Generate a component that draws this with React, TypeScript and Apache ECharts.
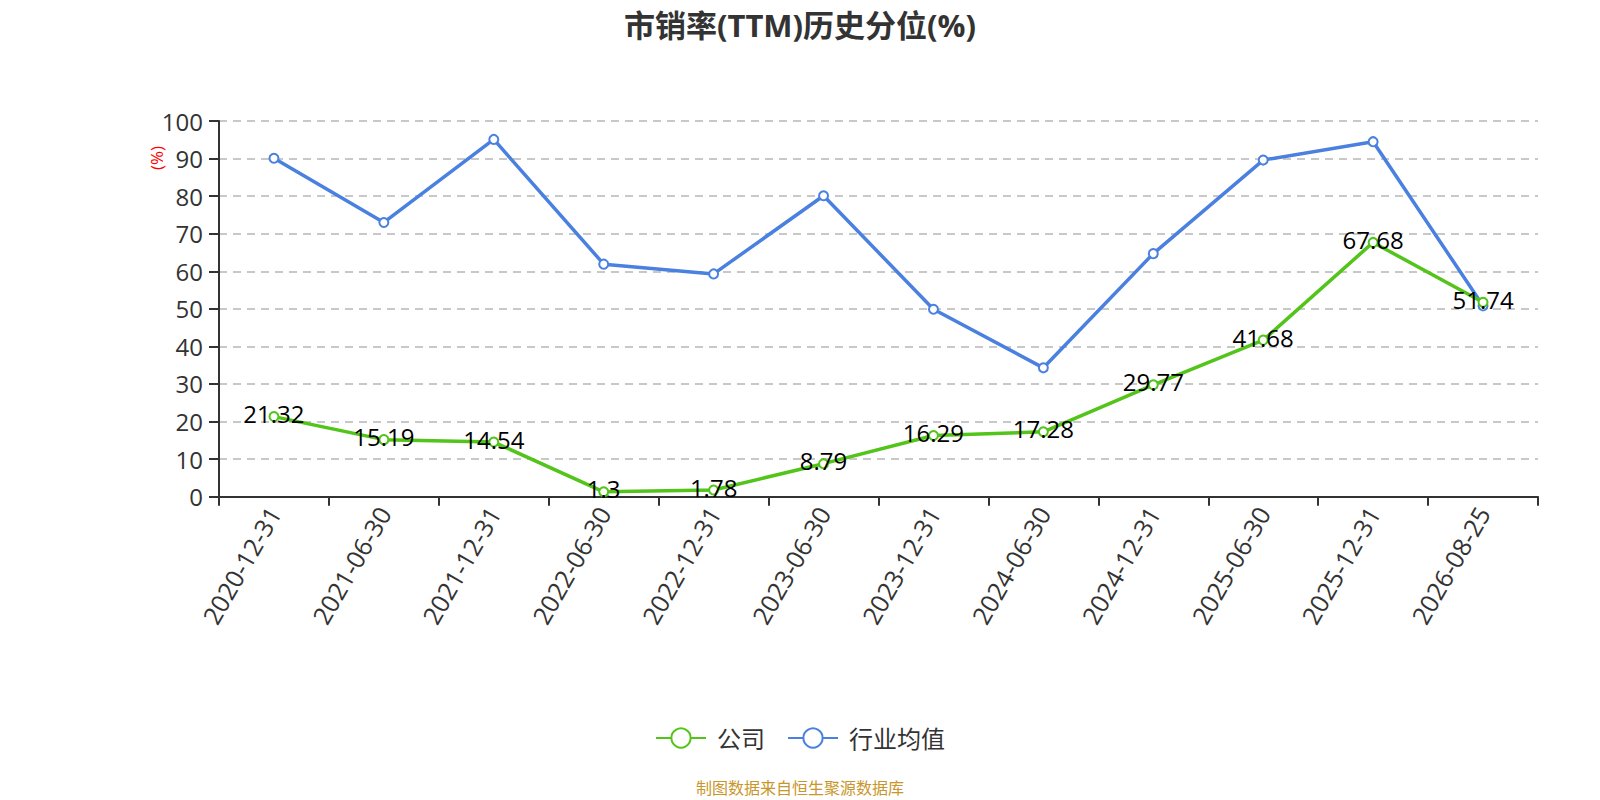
import React, { useEffect, useRef } from "react";
import * as echarts from "echarts";

const categories = [
  "2020-12-31", "2021-06-30", "2021-12-31", "2022-06-30", "2022-12-31", "2023-06-30",
  "2023-12-31", "2024-06-30", "2024-12-31", "2025-06-30", "2025-12-31", "2026-08-25",
];
const companyValues = [21.32, 15.19, 14.54, 1.3, 1.78, 8.79, 16.29, 17.28, 29.77, 41.68, 67.68, 51.74];
const industryValues = [90.1, 73.0, 95.1, 61.9, 59.3, 80.1, 49.9, 34.3, 64.7, 89.6, 94.5, 50.8];
const yTicks = { min: 0, max: 100, interval: 10 };

const FONT = '"Open Sans", "Noto Sans CJK SC", sans-serif';
const GREEN = "#52c41a";
const BLUE = "#4a80e0";

export default function App() {
  const ref = useRef<HTMLDivElement>(null);
  useEffect(() => {
    document.body.style.margin = "0";
    const chart = echarts.init(ref.current!, null, { renderer: "svg" });
    chart.setOption({
      animation: false,
      backgroundColor: "#fff",
      textStyle: { fontFamily: FONT },
      title: [
        {
          text: "市销率(TTM)历史分位(%)",
          left: "center",
          top: 4,
          textStyle: { fontSize: 31, fontWeight: "bold", color: "#333", fontFamily: FONT },
        },
        {
          text: "制图数据来自恒生聚源数据库",
          left: "center",
          top: 780,
          padding: 0,
          textStyle: { fontSize: 16, fontWeight: "normal", color: "#c8962a", fontFamily: FONT },
        },
      ],
      legend: {
        top: 721,
        left: "center",
        itemWidth: 50,
        itemHeight: 24,
        itemGap: 22,
        textStyle: { fontSize: 24, color: "#333", fontFamily: FONT, padding: [0, 0, 0, 6] },
        data: ["公司", "行业均值"],
      },
      grid: { left: 219, right: 62, top: 121, bottom: 303.3 },
      xAxis: {
        type: "category",
        data: categories,
        boundaryGap: true,
        axisLine: { lineStyle: { color: "#333", width: 2 } },
        axisTick: { show: true, length: 9, lineStyle: { color: "#333", width: 2 } },
        axisLabel: { rotate: 60, fontSize: 25, color: "#333", margin: 12, fontFamily: FONT },
      },
      yAxis: {
        type: "value",
        min: yTicks.min,
        max: yTicks.max,
        interval: yTicks.interval,
        axisLine: { show: true, lineStyle: { color: "#333", width: 2 } },
        axisTick: { show: true, length: 10, lineStyle: { color: "#333", width: 2 } },
        axisLabel: { fontSize: 24, color: "#333", margin: 16, fontFamily: FONT },
        splitLine: { show: true, lineStyle: { type: [8, 6], color: "#c8c8c8", width: 2 } },
      },
      graphic: [
        {
          type: "text",
          x: 148,
          y: 170,
          rotation: Math.PI / 2,
          style: { text: "(%)", fill: "#ff0000", font: `17px ${FONT}` },
        },
      ],
      series: [
        {
          name: "公司",
          type: "line",
          data: companyValues,
          color: GREEN,
          symbol: "emptyCircle",
          symbolSize: 9,
          lineStyle: { width: 3.5, color: GREEN },
          itemStyle: { color: GREEN, borderWidth: 2 },
          label: {
            show: true,
            position: "inside",
            offset: [0, -3],
            fontSize: 24,
            color: "#000",
            fontFamily: FONT,
          },
          z: 3,
        },
        {
          name: "行业均值",
          type: "line",
          data: industryValues,
          color: BLUE,
          symbol: "emptyCircle",
          symbolSize: 9,
          lineStyle: { width: 3.5, color: BLUE },
          itemStyle: { color: BLUE, borderWidth: 2 },
          z: 2,
        },
      ],
    });
    return () => chart.dispose();
  }, []);
  return <div ref={ref} style={{ width: 1600, height: 800 }} />;
}
